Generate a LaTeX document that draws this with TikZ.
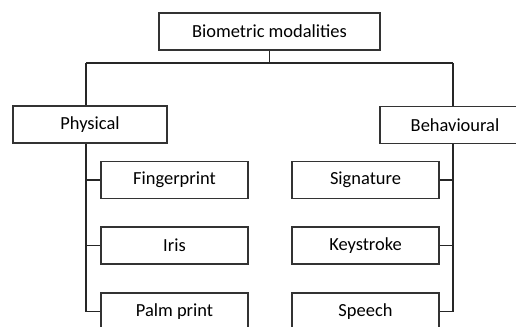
\documentclass[tikz,border=0pt]{standalone}
\usepackage{fontspec}
\setmainfont{Carlito}
\begin{document}
\begin{tikzpicture}[x=0.02cm,y=-0.02cm,
  box/.style={draw=black!80,line width=0.6pt,fill=white,inner sep=0pt,
    minimum height=0.74cm,font=\fontsize{10.5}{12}\selectfont},
  leaf/.style={box,minimum width=2.94cm},
  link/.style={draw=black!85,line width=0.6pt},
  stub/.style={draw=black!85,line width=1.1pt}]
  \useasboundingbox (0,0) rectangle (516,326);
  \clip (0,0) rectangle (516,326);

  % root and the two categories
  \node[box,minimum width=4.42cm] (root) at (269.5,31.5) {Biometric modalities};
  \node[box,minimum width=3.08cm] (phys) at (90,124.5) {Physical};
  \node[box,minimum width=3.0cm] (behav) at (455,125) {Behavioural};

  % physical modalities
  \node[leaf] (finger) at (174.5,180) {Fingerprint};
  \node[leaf] (iris)   at (174.5,245.5) {Iris};
  \node[leaf] (palm)   at (174.5,311.5) {Palm print};

  % behavioural modalities
  \node[leaf] (sign)   at (365.5,180) {Signature};
  \node[leaf] (key)    at (365.5,245.5) {Keystroke};
  \node[leaf] (speech) at (365.5,311.5) {Speech};

  % bus and trunk lines
  \coordinate (busL) at (86,63);
  \coordinate (busR) at (453,63);
  \draw[link] (root.south) -- (root.south |- busL);
  \draw[link] (busL) -- (busR);
  \draw[link] (busL) -- (busL |- phys.north);
  \draw[link] (busR) -- (busR |- behav.north);
  \draw[link] (busL |- phys.south) -- (busL |- palm);
  \draw[link] (busR |- behav.south) -- (busR |- speech);

  % stubs to the leaves
  \draw[stub] (busL |- finger) -- (finger.west);
  \draw[stub] (busL |- iris) -- (iris.west);
  \draw[stub] (busL |- palm) -- (palm.west);
  \draw[stub] (sign.east) -- (busR |- sign);
  \draw[stub] (key.east) -- (busR |- key);
  \draw[stub] (speech.east) -- (busR |- speech);
\end{tikzpicture}
\end{document}
